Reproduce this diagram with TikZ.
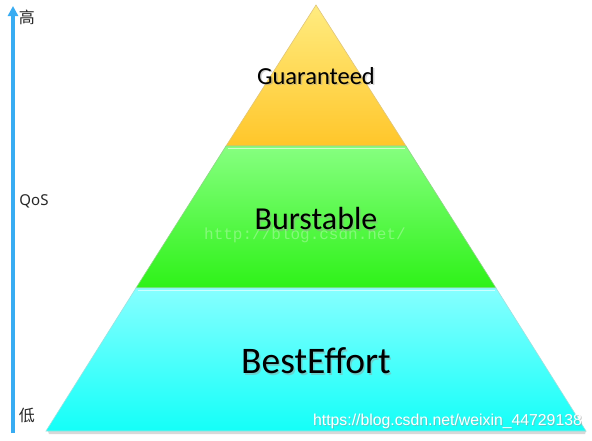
\documentclass[tikz,border=0pt]{standalone}
\usepackage{fontspec}
\setmainfont{Carlito}
\newfontfamily\cjk{Noto Sans CJK SC}
\newfontfamily\notosans{Noto Sans}
\newfontfamily\wmfont{Liberation Sans}
\newfontfamily\wmmono{Liberation Mono}
\usetikzlibrary{arrows.meta,calc}
\definecolor{arrowblue}{HTML}{38ACF2}
\definecolor{ytop}{HTML}{FFEC80}
\definecolor{ybot}{HTML}{FFC62A}
\definecolor{gtop}{HTML}{86FF80}
\definecolor{gbot}{HTML}{2EF218}
\definecolor{ctop}{HTML}{86FFFF}
\definecolor{cbot}{HTML}{14FFF8}
\tikzset{
  layer/.style={line width=0.6pt, line join=miter},
  lbl/.style={inner sep=0pt, text=black},
  lblshadow/.style={inner sep=0pt, text=black!40, opacity=0.45},
  side/.style={inner sep=0pt, text=black!85},
  qosarrow/.style={draw=arrowblue, line width=3.2pt, -{Triangle[length=10pt,width=10pt]}}
}
\begin{document}
\begin{tikzpicture}[x=1pt,y=-1pt]
\useasboundingbox[fill=white] (0,0) rectangle (592,440);
% apex / band corners
\coordinate (apex) at (316,5);
\coordinate (yl) at (226,146);
\coordinate (yr) at (406,146);
\coordinate (gl) at (136,288);
\coordinate (gr) at (496,288);
\coordinate (cl) at (46,431);
\coordinate (cr) at (586,431);
% shadow under base
\fill[black!30, opacity=0.5] ($(cl)+(2,0)$) -- ($(cr)+(0,0)$) -- ($(cr)+(-1,3)$) -- ($(cl)+(3,3)$) -- cycle;
% layers
\path[layer, draw=ybot!80!black!60, top color=ytop, bottom color=ybot] (apex) -- (yr) -- (yl) -- cycle;
\path[layer, draw=gbot!70!black!50, top color=gtop, bottom color=gbot] (yl) -- (yr) -- (gr) -- (gl) -- cycle;
\path[layer, draw=cbot!70!black!40, top color=ctop, bottom color=cbot] (gl) -- (gr) -- (cr) -- (cl) -- cycle;
% highlight lines at top of lower bands
\draw[white, opacity=0.6, line width=1pt] ($(yl)+(1.5,2)$) -- ($(yr)+(-1.5,2)$);
\draw[white, opacity=0.6, line width=1pt] ($(gl)+(1.5,2)$) -- ($(gr)+(-1.5,2)$);
% faint watermark
\node[inner sep=0pt, text=white, opacity=0.3, font=\wmmono\fontsize{16}{16}\selectfont] (wm1) at (305,235) {http://blog.csdn.net/};
% labels with shadows
\node[lblshadow, font=\fontsize{24.5}{24.5}\selectfont] (gs) at (317.5,77.5) {Guaranteed};
\node[lbl, font=\fontsize{24.5}{24.5}\selectfont] (guar) at (316,76) {Guaranteed};
\node[lblshadow, font=\fontsize{32}{32}\selectfont] (bs) at (317.5,220.5) {Burstable};
\node[lbl, font=\fontsize{32}{32}\selectfont] (burst) at (316,219) {Burstable};
\node[lblshadow, font=\fontsize{37.5}{37.5}\selectfont] (es) at (317.5,362.5) {BestEffort};
\node[lbl, font=\fontsize{37.5}{37.5}\selectfont] (best) at (316,361) {BestEffort};
% bottom watermark
\node[inner sep=0pt, text=black!40, opacity=0.5, font=\wmfont\fontsize{15.8}{15.8}\selectfont] (wm2s) at (448.5,422) {https://blog.csdn.net/weixin\_44729138};
\node[inner sep=0pt, text=white, font=\wmfont\fontsize{15.8}{15.8}\selectfont] (wm2) at (447.5,421) {https://blog.csdn.net/weixin\_44729138};
% QoS arrow
\coordinate (low) at (13,433);
\coordinate (high) at (13,6);
\draw[qosarrow] (low) -- (high);
\node[side, font=\cjk\fontsize{16}{16}\selectfont] (hi) at (27,17) {高};
\node[side, font=\notosans\fontsize{15}{15}\selectfont] (qos) at (34,201) {QoS};
\node[side, font=\cjk\fontsize{16}{16}\selectfont] (lo) at (27,415) {低};
\end{tikzpicture}
\end{document}
